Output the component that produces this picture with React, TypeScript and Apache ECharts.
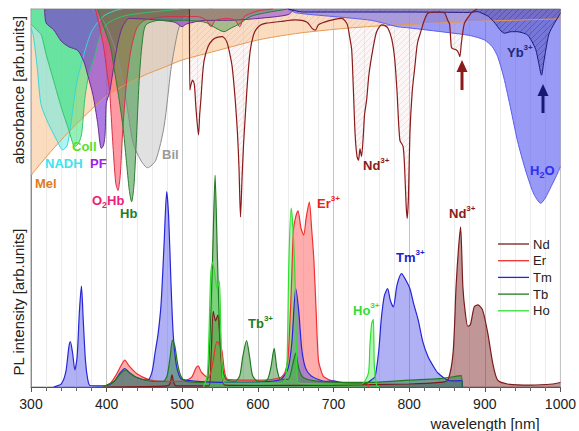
import React, { useEffect, useRef } from "react";
import * as echarts from "echarts";

type P = [number, number][];

// ---------- x axis ----------
const X_MIN = 300;
const X_MAX = 1000;
const X_STEP = 100;

// ---------- absorbance spectra (value grows downward from the top) ----------
const melAbs: P = [[300,44],[325,38],[350,32.5],[375,27.5],[400,23],[425,20],[450,17.5],[475,15.5],[500,13.5],[550,10.8],[600,8.2],[650,6.5],[700,5.4],[750,4.6],[800,4.1],[850,3.6],[900,3.2],[950,2.9],[1000,2.6]];
const nadhAbs: P = [[300,5],[303,7],[308,15],[313,25],[320,29],[334,34.7],[342,37.3],[348,36],[353,30],[360,20],[370,12],[380,6],[395,2],[410,0.5],[420,0]];
const collAbs: P = [[300,4],[305,5],[310,6],[314,7],[320,12],[330,19],[340,26],[350,32],[358,36.4],[363,35.5],[367,33],[371,24],[375,18.8],[380,15],[385,12],[390,8],[400,4],[420,2],[450,1],[500,0]];
const pfAbs: P = [[318,0],[320,3.7],[330,5.5],[340,8.5],[350,10],[362,11],[370,14],[375,17.5],[382,22.8],[388,30],[393,36.9],[396,36],[398,33],[399.5,25],[404,22],[408,17],[412,12],[416,8],[421,4.7],[430,2.5],[460,2.8],[490,3.5],[500,4.7],[505,4],[530,3],[560,3],[600,2.5],[640,1.5],[648,0]];
const o2hbAbs: P = [[385,0],[390,4],[396,10],[400,16],[404,22],[408,35],[412,46],[415,48],[418,44],[421,33],[426,20],[432,11],[440,5],[450,3],[480,2],[520,2],[532,3],[538,4.7],[544,3],[560,2.5],[570,3],[576,4.7],[582,2],[600,0.5],[620,0]];
const hbAbs: P = [[388,0],[395,4],[405,10],[410,16],[415,22],[421.5,31],[426,40],[430,48],[433,51],[436,47],[439,36],[443,19],[447,9],[452,4.2],[470,3],[500,3],[530,3.5],[544,5],[555,6],[565,5],[575,4],[590,2],[610,1],[640,0]];
const bilAbs: P = [[380,0],[395,3],[405,7],[415,13],[422,20],[428,27],[435,35.5],[445,40],[454,42],[465,40],[476,31],[485,16],[491,9],[496,4.7],[505,2],[520,0.5],[540,0]];
const ndAbs: P = [[509.5,0],[510,21.4],[511.5,20],[513.6,18.8],[516,20],[518,26],[521.5,33.3],[523,28],[524.6,24],[527,17],[529,13.5],[534,10],[540,8.2],[546,7.5],[553,7.3],[557,8],[559.6,9.1],[563,12],[566,15.3],[570,24],[573,32.9],[575,42],[577,55],[579,45],[581,36],[583.8,26.7],[587,17],[590,10.8],[594,7],[597,5.6],[603,4.3],[610,3.8],[630,3.3],[649.6,2.9],[665,3.5],[672,5.2],[676,5.6],[680,4.2],[689,3.4],[700,2.8],[711,2.5],[718,4],[721,7],[724,10.8],[726,20],[728.5,33],[731,39],[733,40],[735,37],[737,39],[739.5,33],[741,28],[743.8,24],[747,17],[752.6,10],[757,6],[763.5,4.2],[768,4.4],[772,5.1],[777,8],[781,13.5],[784,22],[787.7,34.7],[792,36.4],[794,42],[796,52],[797.4,55.4],[799,50],[801,32.9],[804,22],[807.5,15.3],[811,9],[816,5.6],[820,3],[825,1.1],[840,0.8],[847,1.1],[851,3],[853.5,4],[855.7,10],[858,10.5],[862,10.8],[865,11.5],[867,12.6],[869,9.1],[873,3.8],[880,1.6],[885,0.5],[890,0]];
const ybAbs: P = [[640,0],[660,0.8],[800,0.8],[880,0.9],[890,0.7],[896,1.1],[905,2],[913.7,3.8],[920,5.5],[926,6.4],[935,6],[943,6],[950,6.3],[956.6,6.9],[962,8.5],[967.5,10.8],[971,14],[975,17.5],[978,14],[980.7,10.8],[985,6.5],[992,3.8],[1000,1.1]];
const h2oAbs: P = [[640,0],[650,1],[700,2],[750,3],[785,4.7],[800,5],[850,6.2],[880,7],[899.6,8.2],[910,10],[917,12.6],[925,18],[934.6,26.7],[943,34.7],[950,40],[956.6,44.4],[965,49],[974,51.4],[980,50],[987.6,47],[995,44],[1000,41.7]];

// ---------- photoluminescence spectra ----------
const ndPL: P = [[400,0],[480,0.3],[484,1],[486.4,3.2],[489,1],[492,0.3],[535,0.3],[538,8],[541,20],[544,17.5],[547,19],[550,12],[553,3],[556,0.5],[600,0.4],[700,0.5],[800,0.8],[840,1.2],[851,1.8],[858,8.9],[862,26.5],[865,36],[868,42.4],[871,26.5],[874,20],[877.6,16],[881,16.5],[886,21.2],[890.8,21.7],[897,20.4],[904,14.2],[910.5,6.3],[917,1.8],[930,0.8],[960,0.5],[990,0.8],[1000,1.2]];
const erPL: P = [[395,0],[405,1],[412,3],[420,6],[424,7.1],[430,5.5],[440,3.5],[455,2],[470,1.5],[500,1.5],[512,2.5],[518,5],[521,5.6],[525,4],[530,3],[535,2.5],[540,6],[546,12],[552,10],[556,4],[560,2],[600,1.8],[630,2.5],[636,4],[640,8],[644,25],[647,41.5],[650,45],[653,46.6],[657,42],[660.5,40.2],[664,45],[668,48.9],[671,42],[674,33.6],[677,20],[680,7.1],[684,4],[687,2.7],[700,1.5],[720,1],[745,0.9],[746,0]];
const tmPL: P = [[330,0],[340,0.8],[346,4],[350,10.5],[352,12],[355,9],[358,4.5],[361,8],[364,20],[366.7,26.7],[369,18],[372,7],[375,2],[378,0.4],[390,0.3],[400,0.4],[410,1.5],[418,3.8],[424,4.9],[430,3.8],[440,2.5],[454,1.8],[460,4],[464,9],[468,14],[472,22],[476,38],[479.4,51.7],[482,45],[485,28],[488,14],[492,6],[496,3],[500,2],[520,1.5],[560,1.2],[600,1.3],[630,2],[640,5],[645,12],[650,26],[654,20],[658,10],[663,5],[670,3],[680,2],[690,1.5],[700,1.6],[710,1.2],[730,0.9],[745,1.2],[752,2.2],[755,2.7],[760,10],[763,17.7],[767,24],[771.5,26],[775,23],[779,21.2],[784,27],[790,30],[795,28.5],[801,26],[806,22],[812,17.7],[818,12],[825,8],[832,5.5],[838,3.7],[851,1.8],[860,1.6],[870,1.7],[870.5,0]];
const tbPL: P = [[395,0],[410,1.5],[418,3.5],[425,4.5],[432,3.5],[440,2.5],[460,1.5],[475,1.5],[480,3],[484,8],[487,12.4],[490,11],[494,6],[498,3],[505,1.5],[530,1.2],[534,3],[537,15],[540,33.6],[543.4,56],[546,38],[547.8,24.8],[550,12],[553,5.4],[558,2],[570,1.5],[576,3],[580,8],[585,12.3],[589,8],[593,3],[600,1.5],[612,1.8],[617,5],[621.5,10.2],[625,5],[630,2],[640,2],[646,6],[650,9],[654,5],[660,2.5],[680,1.5],[720,1.2],[760,1.3],[800,1.8],[840,2.2],[869,3],[870,0]];
const hoPL: P = [[528,0],[533,3],[535,12],[537.7,30],[540,33],[543,30],[546,26],[549,28],[551,15],[553,4],[556,1],[600,1],[632,1],[636,2],[638.6,7.1],[641,33.6],[644,47.3],[647,39.8],[649.6,24.8],[651.7,3.6],[654,1],[700,0.8],[737,0.8],[746,3.6],[748,10.7],[750.4,16.8],[752.6,17.9],[754,5.4],[757,0.5],[760,0]];

const LEGEND_NAMES = ["Nd", "Er", "Tm", "Tb", "Ho"];
const LEGEND_COLORS = ["#7b1c1c", "#f03030", "#2626d6", "#1f7a1f", "#30e030"];

const FONT = "'Liberation Sans', Arial, Helvetica, sans-serif";

function hatch(bg: string, stroke: string): any {
  try {
    const c = document.createElement("canvas");
    c.width = 6; c.height = 6;
    const g = c.getContext("2d");
    if (!g) return bg;
    g.fillStyle = bg; g.fillRect(0, 0, 6, 6);
    g.strokeStyle = stroke; g.lineWidth = 0.7;
    g.beginPath();
    g.moveTo(-1, 7); g.lineTo(7, -1);
    g.moveTo(-4, 4); g.lineTo(4, -4);
    g.moveTo(2, 10); g.lineTo(10, 2);
    g.stroke();
    return { image: c, repeat: "repeat" };
  } catch (e) {
    return bg;
  }
}

function absSeries(name: string, data: P, line: string, fill: any, width = 1) {
  return {
    name, type: "line", xAxisIndex: 0, yAxisIndex: 1, data, symbol: "none",
    smooth: 0.25, silent: true,
    lineStyle: { color: line, width }, itemStyle: { color: line },
    areaStyle: { color: fill, opacity: 1 },
  };
}
function plSeries(name: string, data: P, line: string, fill: string) {
  return {
    name, type: "line", xAxisIndex: 0, yAxisIndex: 0, data, symbol: "none",
    smooth: 0.25, silent: true,
    lineStyle: { color: line, width: 1.2 }, itemStyle: { color: line },
    areaStyle: { color: fill, opacity: 1 },
  };
}

function label(x: number, y: number, text: string, color: string) {
  return {
    type: "text", x, y, silent: true, z: 100,
    style: {
      text, fill: color, textVerticalAlign: "middle", textAlign: "left",
      rich: {
        m: { fontSize: 13, fontWeight: "bold", fontFamily: FONT, fill: color, color, lineHeight: 18, verticalAlign: "middle" },
        p: { fontSize: 8, fontWeight: "bold", fontFamily: FONT, fill: color, color, lineHeight: 9, verticalAlign: "top" },
        s: { fontSize: 9, fontWeight: "bold", fontFamily: FONT, fill: color, color, lineHeight: 10, verticalAlign: "bottom" },
      },
    },
  };
}

function arrow(x: number, yTip: number, yEnd: number, color: string) {
  return [
    { type: "line", z: 100, silent: true, shape: { x1: x, y1: yTip + 9, x2: x, y2: yEnd }, style: { stroke: color, lineWidth: 3 } },
    { type: "polygon", z: 100, silent: true, shape: { points: [[x, yTip], [x - 5.5, yTip + 12], [x + 5.5, yTip + 12]] }, style: { fill: color } },
  ];
}

function legendItems() {
  const out: any[] = [];
  LEGEND_NAMES.forEach((n, i) => {
    const y = 244 + i * 16.7;
    out.push({ type: "line", silent: true, z: 100, shape: { x1: 498, y1: y, x2: 529, y2: y }, style: { stroke: LEGEND_COLORS[i], lineWidth: 1.3 } });
    out.push({ type: "text", silent: true, z: 100, x: 533, y, style: { text: n, fontSize: 13, fontFamily: FONT, fill: "#222", textAlign: "left", textVerticalAlign: "middle" } });
  });
  return out;
}

export default function App() {
  const ref = useRef<HTMLDivElement>(null);
  useEffect(() => {
    if (!ref.current) return;
    const chart = echarts.init(ref.current, undefined, { renderer: "svg" });
    const ndHatch = hatch("rgba(245,215,215,0.22)", "rgba(200,130,130,0.3)");
    const ybHatch = hatch("rgba(40,40,150,0.3)", "rgba(20,20,110,0.4)");
    chart.setOption({
      animation: false,
      backgroundColor: "#ffffff",
      grid: { left: 31, right: 16, top: 9, bottom: 44, show: true, borderColor: "#9a9a9a", borderWidth: 1, backgroundColor: "transparent" },
      xAxis: [
        {
          type: "value", min: X_MIN, max: X_MAX, interval: X_STEP, position: "bottom",
          axisLine: { show: true, lineStyle: { color: "#555", width: 1 } },
          axisTick: { show: true, inside: false, length: 5, lineStyle: { color: "#555" } },
          minorTick: { show: true, splitNumber: 5, length: 4, lineStyle: { color: "#666" } },
          splitLine: { show: true, lineStyle: { color: "#c4c4c4", width: 1 } },
          minorSplitLine: { show: true, lineStyle: { color: "#ececec", width: 1 } },
          axisLabel: { fontSize: 14, color: "#222", margin: 10, fontFamily: FONT, formatter: (v: number) => String(v) },
        },
        {
          type: "value", min: X_MIN, max: X_MAX, interval: X_STEP, position: "top",
          axisLine: { show: true, lineStyle: { color: "#9a9a9a" } },
          axisTick: { show: true, inside: true, length: 4, lineStyle: { color: "#888" } },
          minorTick: { show: true, splitNumber: 5, length: 3, lineStyle: { color: "#999" } },
          splitLine: { show: false }, axisLabel: { show: false },
        },
      ],
      yAxis: [
        { type: "value", min: 0, max: 100, axisLine: { show: true, lineStyle: { color: "#8a8a8a" } }, axisTick: { show: false }, axisLabel: { show: false }, splitLine: { show: false } },
        { type: "value", min: 0, max: 100, inverse: true, show: false, splitLine: { show: false } },
      ],
      series: [
        absSeries("Mel", melAbs, "#e59a4f", "rgba(249,196,148,0.6)"),
        absSeries("Bil", bilAbs, "#8c8c8c", "rgba(195,195,195,0.5)"),
        absSeries("NADH", nadhAbs, "#3ad6d6", "rgba(90,235,230,0.5)"),
        absSeries("Coll", collAbs, "#35c46a", "rgba(40,225,110,0.5)"),
        absSeries("PF", pfAbs, "#6a2a90", "rgba(125,45,212,0.62)"),
        absSeries("O2Hb", o2hbAbs, "#d8304a", "rgba(255,70,85,0.55)"),
        absSeries("Hb", hbAbs, "#2e7d32", "rgba(40,140,50,0.5)"),
        absSeries("H2O", h2oAbs, "#5c5cf0", "rgba(85,85,240,0.6)"),
        absSeries("Yb abs", ybAbs, "#1a1a7a", ybHatch),
        absSeries("Nd abs", ndAbs, "#8b1a1a", ndHatch, 1.2),
        plSeries(LEGEND_NAMES[0], ndPL, LEGEND_COLORS[0], "rgba(130,45,45,0.5)"),
        plSeries(LEGEND_NAMES[1], erPL, LEGEND_COLORS[1], "rgba(255,90,90,0.5)"),
        plSeries(LEGEND_NAMES[2], tmPL, LEGEND_COLORS[2], "rgba(80,80,230,0.45)"),
        plSeries(LEGEND_NAMES[3], tbPL, LEGEND_COLORS[3], "rgba(40,130,40,0.45)"),
        plSeries(LEGEND_NAMES[4], hoPL, LEGEND_COLORS[4], "rgba(70,230,70,0.4)"),
      ],
      graphic: [
        { type: "text", x: 18, y: 90, rotation: Math.PI / 2, silent: true, style: { text: "absorbance [arb.units]", fontSize: 15, fontFamily: FONT, fill: "#222", textAlign: "center", textVerticalAlign: "middle" } },
        { type: "text", x: 18, y: 302, rotation: Math.PI / 2, silent: true, style: { text: "PL intensity [arb.units]", fontSize: 15, fontFamily: FONT, fill: "#222", textAlign: "center", textVerticalAlign: "middle" } },
        { type: "text", x: 485, y: 423, silent: true, style: { text: "wavelength [nm]", fontSize: 15, fontFamily: FONT, fill: "#222", textAlign: "center", textVerticalAlign: "middle" } },
        label(35, 183, "{m|Mel}", "#e07b1f"),
        label(45, 163, "{m|NADH}", "#3ee4ee"),
        label(72, 146, "{m|Coll}", "#55e02a"),
        label(90, 163, "{m|PF}", "#a020e8"),
        label(92, 200, "{m|O}{s|2}{m|Hb}", "#f01e78"),
        label(120, 213, "{m|Hb}", "#1f7f1f"),
        label(162, 154, "{m|Bil}", "#9a9a9a"),
        label(363, 165, "{m|Nd}{p|3+}", "#8b1a1a"),
        label(507, 52, "{m|Yb}{p|3+}", "#1e2a7a"),
        label(530, 170, "{m|H}{s|2}{m|O}", "#2f2ff0"),
        label(317, 203, "{m|Er}{p|3+}", "#ee2020"),
        label(396, 257, "{m|Tm}{p|3+}", "#2020d0"),
        label(353, 310, "{m|Ho}{p|3+}", "#33dd33"),
        label(248, 323, "{m|Tb}{p|3+}", "#1f7f1f"),
        label(449, 213, "{m|Nd}{p|3+}", "#8b1a1a"),
        ...arrow(462, 60, 90, "#8b1a1a"),
        ...arrow(543, 84, 113, "#141a70"),
        ...legendItems(),
      ],
    });
    return () => chart.dispose();
  }, []);
  return <div ref={ref} style={{ position: "absolute", left: 0, top: 0, width: 579, height: 431 }} />;
}
